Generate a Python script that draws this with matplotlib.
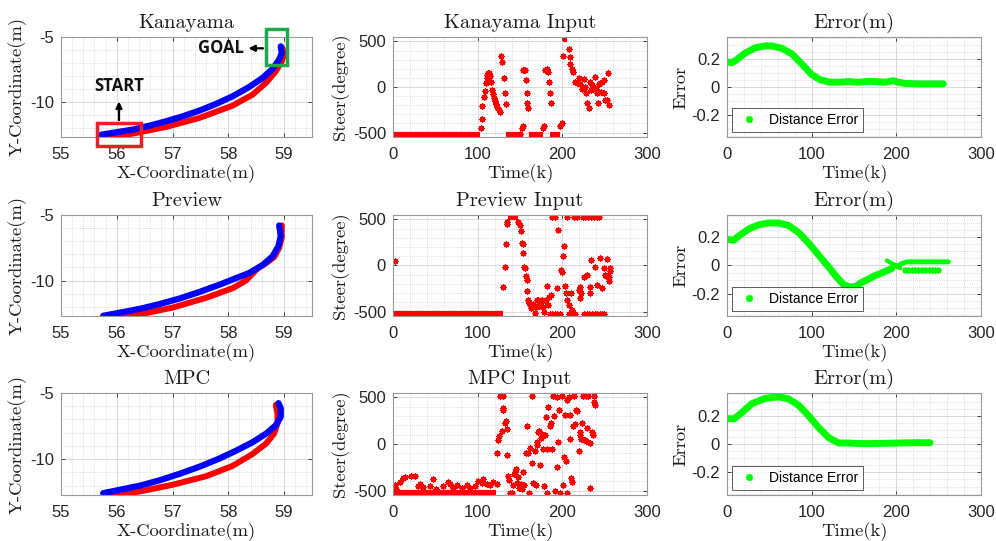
import matplotlib
matplotlib.use('Agg')
import matplotlib.pyplot as plt
from matplotlib.ticker import AutoMinorLocator, MultipleLocator, FuncFormatter
from matplotlib.patches import Rectangle
from matplotlib.lines import Line2D

plt.rcParams['axes.unicode_minus'] = False
plt.rcParams['font.family'] = ['Liberation Sans', 'DejaVu Sans']

# ---------------- Trajectories (x, y in m) ----------------
kan_blue_x = [55.726, 55.994, 56.292, 56.589, 56.887, 57.185, 57.482, 57.780, 58.077, 58.375, 58.613, 58.792, 58.911, 58.958, 58.940]
kan_blue_y = [-12.513, -12.333, -12.128, -11.821, -11.487, -11.103, -10.667, -10.154, -9.564, -8.846, -8.154, -7.462, -6.744, -6.231, -5.718]
kan_red_x = [55.815, 56.292, 56.887, 57.482, 58.077, 58.435, 58.673, 58.851, 58.958, 59.0, 58.970]
kan_red_y = [-12.769, -12.436, -11.923, -11.231, -10.282, -9.436, -8.538, -7.641, -6.872, -6.359, -5.846]

prev_blue_x = [55.756, 56.054, 56.411, 56.768, 57.125, 57.482, 57.839, 58.137, 58.375, 58.613, 58.792, 58.899, 58.940, 58.911]
prev_blue_y = [-12.684, -12.447, -12.158, -11.789, -11.368, -10.868, -10.316, -9.816, -9.421, -8.816, -8.158, -7.368, -6.579, -5.8]
prev_red_x = [55.845, 56.411, 57.006, 57.601, 58.077, 58.315, 58.435, 58.524, 58.673, 58.821, 58.911, 58.958, 58.958]
prev_red_y = [-12.85, -12.579, -12.053, -11.316, -10.579, -10.0, -9.474, -9.079, -8.684, -8.211, -7.5, -6.711, -5.789]

mpc_blue_x = [55.756, 56.054, 56.411, 56.768, 57.125, 57.482, 57.839, 58.137, 58.435, 58.673, 58.851, 58.940, 58.940, 58.899]
mpc_blue_y = [-12.564, -12.308, -12.0, -11.590, -11.103, -10.564, -9.949, -9.359, -8.718, -8.077, -7.436, -6.795, -6.154, -5.769]
mpc_red_x = [55.845, 56.411, 57.006, 57.601, 58.077, 58.435, 58.673, 58.821, 58.881, 58.881, 58.851]
mpc_red_y = [-12.821, -12.436, -11.923, -11.282, -10.5, -9.603, -8.833, -8.064, -7.295, -6.526, -5.897]

# ---------------- Steering inputs (degree) ----------------
kan_sat_low = [(0, 103), (134, 149), (161, 177), (186, 197)]
kan_sat_high = [(201, 206)]
kan_k = [104, 104.6, 105.4, 107, 108.6, 109.7, 110.5, 111.3, 112.5, 113.5, 114.5, 115.5,
         116.5, 117.7, 119.2, 120.4, 121.6, 123.2, 124.8, 126.3,
         127.5, 128.7, 131, 132.6, 133.4,
         150, 152, 153, 153.5, 155, 156, 157, 158, 158.7, 160,
         177.6, 178.8, 179.6, 181.6, 182.8, 184.8, 185.5, 186.4,
         197.4, 199.4, 200.6, 207.3, 208.5, 209.3, 211.3, 213, 214.4, 217, 219.9, 221, 223,
         225, 226.2, 228.2, 229, 231, 232.1, 233.7, 235.3, 236.9, 238.8, 240, 240.8, 241.6,
         242.8, 244.8, 246, 246.7, 248.7, 249.5, 250.7, 252.7, 253.8, 255]
kan_v = [-445, -346, -212, -106, -46, 42, 95, 131, 155, 150, 125, 60,
         -35, -81, -117, -152, -187, -223, -247, -276,
         343, 272, 95, -64, -187,
         -516, -452, -424, 190, 185, 190, 78, -64, -170, -233,
         -445, -424, 184, 201, 166, 60, -64, -177,
         -424, -399, 343, 413, 332, 254, 201, 166, 60, 42, 95, 35, -21,
         85, 0, -64, -177, -233, 60, -28, 25, -11, 113, -21, -64, -170,
         35, 49, -57, 60, 78, -64, -141, -141, 148, -198]

prev_sat_low = [(0, 130)]
prev_sat_high = [(136, 148)]
prev_k = [2, 130.3, 132.3, 133, 134.2, 135,
          148, 150, 150.8, 152, 153.2, 154, 155.2, 156, 157, 158, 158.7, 160, 161, 161.9,
          163, 163.8, 165, 165.8, 167.8, 169, 169.8, 171.7, 172.9, 173.7, 175.7, 176.9,
          178.4, 179.6, 180.8, 182.4, 183.6, 184.8, 186.3,
          187.5, 191.5, 206.1, 213.9, 217.9, 224.5, 227, 230.5, 234, 237.5, 240.5, 243,
          185, 188, 191, 194, 197.4, 207.3, 212.4, 215.2, 226, 229, 232, 235, 238, 241, 244, 247, 249,
          193.4, 195.4, 198.6, 199.4, 201.3, 202.1, 203.3, 204.5, 205.3, 208.4, 210, 211.2,
          219.1, 220.3, 221.1, 221.9, 225.8, 229, 232.1, 232.9, 233.7, 238.8, 240.8, 244,
          246.7, 249.5, 250.7, 251.9, 252.7, 254.6, 254.6, 255.8, 256.6]
prev_v = [53, -236, -11, 236, 448, 476,
          469, 441, 377, 247, 229, 141, -11, -25, -116, -159, -282, -370, -406, -423,
          -459, -434, -413, -441, -511, -448, -370, -377, -441, -406, -370, -448,
          -504, -388, -370, -222, -434, -342, -317,
          530, 530, 530, 530, 530, 530, 530, 530, 530, 530, 530, 530,
          -530, -530, -530, -530, -530, -530, -530, -530, -530, -530, -530, -530, -530, -530, -530, -530, -530,
          -247, 388, -53, -71, 106, 212, -222, -300, -370, -434, -300, -483,
          -265, -236, -353, -300, -123, -106, -236, -293, 60, -18, -212, 81,
          -247, -25, -106, -116, 71, -166, -123, -25, -60]

mpc_sat_low = [(0, 122)]
mpc_k = [2, 4, 7.9, 11.8, 13.8, 21.7, 25.7, 29.6, 31.6, 35.5, 43.4, 47.4, 51.3, 59.2, 65.1, 67.2,
         71.1, 75, 81, 86.9, 90.8, 96.7, 100.7, 104.6, 106.6, 110.5, 114.5, 118.4, 122.4,
         122.4, 124.4, 125.5, 126.3, 129.5, 128.3, 129.5, 130.3, 132.3, 133, 134.2, 135, 136.2,
         137.4, 138.2, 140.1, 141.3, 142.9, 144.1, 145.3, 146.1, 148, 149.2, 150.8, 152, 154,
         155.2, 157.1, 158.7, 159.9, 161, 161.9, 163.8, 164.6, 165.8, 167.8, 168.9, 169.8, 170.6,
         171.7, 172.9, 173.7, 174.5, 175.7, 177.6, 178.4, 179.6, 180.8, 181.6, 182.4, 183.6,
         185.5, 186.3, 187.5, 188.7, 190.3, 191.5, 193.4, 194.2, 195.4, 196.6, 197.4, 199.4,
         201.3, 202.1, 203.3, 204.5, 205.3, 206.1, 207.3, 208.5, 209.2, 210, 211.2, 212.4,
         213.2, 215.2, 216.3, 217.1, 219.1, 220.3, 221.1, 221.9, 223.1, 224.3, 225, 227, 228.2,
         229, 229.8, 230.9, 232.1, 232.9, 234.9, 236.1, 236.9, 237.7, 238.8]
mpc_v = [-437, -488, -403, -369, -352, -341, -341, -454, -430, -464, -454, -375, -488, -454, -410, -430,
         -471, -437, -478, -444, -471, -454, -396, -420, -375, -430, -437, -410, -430,
         -96, 41, 82, 519, 519, 143, 382, 365, 229, 246, 160, -113, -341,
         -386, -522, -522, -437, -317, -300, -266, -420, -352, -478, -430, -488, -300,
         -444, -96, 195, -102, -522, -44, -205, 519, -420, -78, -444, -10, 24,
         126, 143, -225, 68, 109, -55, -454, 102, 287, -55, -522, 399,
         195, 229, -55, 519, 297, -505, 502, -249, 24, 365, -522, 519,
         -437, -137, 314, -181, 468, -522, 502, 314, 58, -362, -403, 195,
         519, 211, 365, 355, -78, 126, 92, 58, 229, 519, 41, 48, 519,
         177, 24, 519, 7, -478, 126, 92, 451, 519, 416]

# ---------------- Distance errors (m) ----------------
kan_err_k = [0, 5.9, 11.8, 21.6, 33.4, 45.2, 53.1, 64.9, 76.7, 88.5, 100.3, 110.1, 120, 131.7,
             143.5, 155.3, 167.1, 178.9, 186.8, 196.6, 202.5, 210.4, 226.1, 241.8, 255.6]
kan_err_v = [0.18, 0.175, 0.198, 0.245, 0.282, 0.296, 0.296, 0.278, 0.238, 0.165, 0.088, 0.052,
             0.036, 0.034, 0.039, 0.034, 0.041, 0.038, 0.034, 0.046, 0.034, 0.026, 0.023, 0.023, 0.023]

prev_err_k = [2, 7.9, 13.8, 25.6, 37.4, 49.2, 61, 72.8, 84.5, 96.3, 108.1, 120, 129.8, 137.6,
              145.5, 151.4, 159.3, 167.1, 175, 184.8, 194.6]
prev_err_v = [0.185, 0.18, 0.21, 0.26, 0.29, 0.303, 0.303, 0.285, 0.235, 0.16, 0.075, -0.01,
              -0.085, -0.135, -0.155, -0.15, -0.12, -0.097, -0.072, -0.048, -0.022]
prev_err2_k = [188.7, 194.6, 200.5, 204.4]
prev_err2_v = [0.035, 0.015, 0.0, -0.02]
prev_err3_k = [200.5, 206.4, 212.3, 261.4]
prev_err3_v = [-0.008, 0.014, 0.026, 0.026]
prev_err4_k = [210.3, 214, 218, 222, 226, 230, 234, 238, 242, 246, 249.6]
prev_err4_v = [-0.03, -0.03, -0.03, -0.03, -0.03, -0.03, -0.03, -0.03, -0.03, -0.03, -0.03]

mpc_err_k = [0, 7.9, 15.7, 29.5, 45.2, 61, 72.8, 84.5, 96.3, 108.1, 120, 131.7, 143.5, 155.3,
             171, 186.8, 202.5, 218.2, 239.8]
mpc_err_v = [0.18, 0.177, 0.212, 0.285, 0.322, 0.333, 0.318, 0.274, 0.2, 0.117, 0.045, 0.007,
             0.007, 0.003, 0.003, 0.005, 0.007, 0.009, 0.009]

titles_traj = ['Kanayama', 'Preview', 'MPC']
titles_input = ['Kanayama Input', 'Preview Input', 'MPC Input']
title_err = 'Error(m)'
legend_label = 'Distance Error'

RED = '#ff0000'
BLUE = '#0000ff'
GREEN = '#00ff00'
SERIF = 'cmr10'
AST = (8, 2, 0)

W, H = 996, 541
fig = plt.figure(figsize=(W / 100, H / 100), dpi=100)
cols = [(61, 251), (393, 254), (727, 254)]
rows = [(37, 137), (215, 316), (393, 495)]


def add(ci, ri):
    l, w = cols[ci]
    t, b = rows[ri]
    return fig.add_axes([l / W, 1 - b / H, w / W, (b - t) / H])


def style(ax, xmin, ymin):
    ax.xaxis.set_minor_locator(AutoMinorLocator(xmin))
    ax.yaxis.set_minor_locator(AutoMinorLocator(ymin))
    ax.grid(True, which='major', color='#d9d9d9', lw=0.7)
    ax.grid(True, which='minor', color='#d4d4d4', lw=0.6, ls=(0, (1, 1.5)))
    ax.set_axisbelow(True)
    ax.tick_params(which='major', direction='in', length=3, width=0.6, top=True, right=True,
                   labelsize=12, colors='#262626')
    ax.tick_params(axis='x', which='major', pad=7)
    ax.tick_params(axis='y', which='major', pad=5)
    ax.tick_params(which='minor', length=0)
    for s in ax.spines.values():
        s.set_color('#999999')
        s.set_linewidth(0.8)


def labels(ax, title, xl, yl):
    ax.set_title(title, fontfamily=SERIF, fontsize=14.7, pad=6.5, color='#1a1a1a')
    ax.set_xlabel(xl, fontfamily=SERIF, fontsize=13.4, labelpad=2, color='#1a1a1a')
    ax.set_ylabel(yl, fontfamily=SERIF, fontsize=13.4, labelpad=2, color='#1a1a1a')


trajs = [(kan_blue_x, kan_blue_y, kan_red_x, kan_red_y),
         (prev_blue_x, prev_blue_y, prev_red_x, prev_red_y),
         (mpc_blue_x, mpc_blue_y, mpc_red_x, mpc_red_y)]
inputs = [(kan_sat_low, kan_sat_high, kan_k, kan_v),
          (prev_sat_low, prev_sat_high, prev_k, prev_v),
          (mpc_sat_low, [], mpc_k, mpc_v)]

for r in range(3):
    # trajectory
    ax = add(0, r)
    bx, by, rx, ry = trajs[r]
    ax.plot(rx, ry, color=RED, lw=4.3, solid_capstyle='round', solid_joinstyle='round')
    ax.plot(bx, by, color=BLUE, lw=4.5, solid_capstyle='round', solid_joinstyle='round')
    ax.set_xlim(55, 59.5)
    ax.set_ylim(-12.7, -5)
    ax.xaxis.set_major_locator(MultipleLocator(1))
    ax.yaxis.set_major_locator(MultipleLocator(5))
    style(ax, 5, 5)
    labels(ax, titles_traj[r], 'X-Coordinate(m)', 'Y-Coordinate(m)')
    if r == 0:
        ax.add_patch(Rectangle((55.64, -13.41), 0.8, 1.79, fill=False, ec='#ee1c24', lw=2.5,
                               clip_on=False, zorder=5))
        ax.add_patch(Rectangle((58.67, -7.13), 0.39, 2.75, fill=False, ec='#1ea84a', lw=2.5,
                               clip_on=False, zorder=5))
        ax.annotate('', xy=(56.04, -9.75), xytext=(56.04, -11.62),
                    arrowprops=dict(arrowstyle='-|>', lw=1.6, color='black', mutation_scale=9),
                    annotation_clip=False)
        ax.annotate('', xy=(58.31, -5.87), xytext=(58.67, -5.87),
                    arrowprops=dict(arrowstyle='-|>', lw=1.6, color='black', mutation_scale=9),
                    annotation_clip=False)
        ax.text(56.04, -9.5, 'START', fontsize=12, fontweight='bold', ha='center', va='bottom',
                family=['Open Sans', 'DejaVu Sans'], color='#111111')
        ax.text(57.87, -5.87, 'GOAL', fontsize=12, fontweight='bold', ha='center', va='center',
                family=['Open Sans', 'DejaVu Sans'], color='#111111')

    # steering input
    ax = add(1, r)
    sat_low, sat_high, kk, vv = inputs[r]
    for a, b in sat_low:
        ax.plot([a, b], [-530, -530], color=RED, lw=4.5, solid_capstyle='butt')
    for a, b in sat_high:
        ax.plot([a, b], [530, 530], color=RED, lw=4.5, solid_capstyle='butt')
    ax.plot(kk, vv, ls='none', marker=AST, color=RED, markersize=4.5, markeredgewidth=0.9)
    ax.set_xlim(0, 300)
    ax.set_ylim(-548, 548)
    ax.xaxis.set_major_locator(MultipleLocator(100))
    ax.yaxis.set_major_locator(MultipleLocator(500))
    style(ax, 5, 5)
    labels(ax, titles_input[r], 'Time(k)', 'Steer(degree)')

    # error
    ax = add(2, r)
    if r == 0:
        ax.plot(kan_err_k, kan_err_v, color=GREEN, lw=5, solid_capstyle='round')
    elif r == 1:
        ax.plot(prev_err_k, prev_err_v, color=GREEN, lw=5, solid_capstyle='round')
        ax.plot(prev_err2_k, prev_err2_v, color=GREEN, lw=3, solid_capstyle='round')
        ax.plot(prev_err3_k, prev_err3_v, color=GREEN, lw=3.5, solid_capstyle='round')
        ax.plot(prev_err4_k, prev_err4_v, ls='none', marker=AST, color=GREEN, markersize=4.5,
                markeredgewidth=1.0)
    else:
        ax.plot(mpc_err_k, mpc_err_v, color=GREEN, lw=5, solid_capstyle='round')
    ax.set_xlim(0, 300)
    ax.set_ylim(-0.36, 0.36)
    ax.xaxis.set_major_locator(MultipleLocator(100))
    ax.yaxis.set_major_locator(MultipleLocator(0.2))
    ax.yaxis.set_major_formatter(FuncFormatter(lambda v, p: '0' if abs(v) < 1e-9 else f'{v:g}'))
    style(ax, 5, 4)
    labels(ax, title_err, 'Time(k)', 'Error')
    h = Line2D([], [], ls='none', marker=AST, color=GREEN, markersize=5, markeredgewidth=1.2)
    leg = ax.legend([h], [legend_label], loc='lower left', fontsize=10, frameon=True, fancybox=False,
                    edgecolor='#333333', borderaxespad=0.35, handletextpad=0.5, handlelength=1.8,
                    borderpad=0.35)
    leg.get_frame().set_linewidth(0.7)

fig.savefig('out.png', dpi=100)
